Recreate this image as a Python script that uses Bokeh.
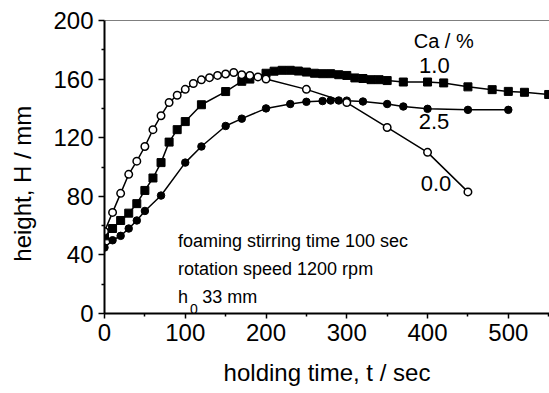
from bokeh.plotting import figure
from bokeh.models import Range1d, FixedTicker, Label, Span
from bokeh.embed import file_html
from bokeh.resources import INLINE

# ---- data ----
t_ca00 = [0, 10, 20, 30, 40, 50, 60, 70, 80, 90, 100, 110, 120, 130, 140, 150, 160,
          170, 180, 190, 200, 250, 300, 350, 400, 450]
h_ca00 = [56, 69, 82, 95, 104, 114, 125.5, 135, 144, 149, 153, 157, 159.5, 161, 162.5,
          163.5, 164.5, 163, 162.5, 161.5, 160, 153, 144, 127, 110, 83]

t_ca10 = [0, 10, 20, 30, 40, 50, 60, 70, 80, 90, 100, 120, 150, 170, 180, 200, 210, 220,
          230, 240, 250, 260, 270, 280, 290, 300, 310, 320, 330, 340, 350, 370, 400, 420,
          450, 480, 500, 520, 550]
h_ca10 = [53, 58, 63.5, 68.5, 75, 84, 92.5, 103, 117, 125.5, 131, 142.5, 151.5, 158.5, 160,
          164, 165.4, 166, 166, 165.5, 164.8, 164, 163.7, 163.7, 163, 162.5, 160.8, 160.4,
          159.6, 159.6, 159, 158, 158, 157.4, 154.7, 152.8, 151.6, 151, 149.5]

t_ca25 = [0, 10, 20, 30, 40, 50, 70, 100, 120, 150, 170, 200, 230, 250, 270, 280, 290, 300,
          320, 350, 370, 400, 450, 500]
h_ca25 = [45, 50, 53, 58, 63.5, 70, 80.5, 103, 114, 128, 133, 140, 143, 144.5, 145, 145.4,
          145.4, 145.3, 144.7, 143, 141.3, 139.7, 139, 139]

x_major = [0, 100, 200, 300, 400, 500]
x_minor = [50, 150, 250, 350, 450, 550]
y_major = [0, 40, 80, 120, 160, 200]
y_minor = [20, 60, 100, 140, 180]

series_labels = ["1.0", "2.5", "0.0"]
legend_title = "Ca / %"
notes = ["foaming stirring time 100 sec", "rotation speed 1200 rpm"]
note_h = "h"
note_h_sub = "0"
note_h_rest = "33 mm"
x_title = "holding time, t / sec"
y_title = "height, H / mm"

FONT = "Liberation Sans"

p = figure(width=549, height=393, output_backend="svg", toolbar_location=None,
           x_range=Range1d(0, 551), y_range=Range1d(0, 200),
           min_border_left=104, min_border_right=0, min_border_top=20,
           min_border_bottom=80)
p.outline_line_color = None
p.grid.visible = False
p.background_fill_color = "white"
p.border_fill_color = "white"

for ax, maj, mnr in ((p.xaxis[0], x_major, x_minor), (p.yaxis[0], y_major, y_minor)):
    ax.ticker = FixedTicker(ticks=maj, minor_ticks=mnr)
    ax.axis_line_width = 2
    ax.axis_line_color = "black"
    ax.major_tick_line_width = 1.5
    ax.minor_tick_line_width = 1.5
    ax.major_tick_line_color = "black"
    ax.minor_tick_line_color = "black"
    ax.major_tick_in = 0
    ax.minor_tick_in = 0
    ax.major_label_text_font = FONT
    ax.major_label_text_font_size = "24px"
    ax.major_label_text_color = "black"
    ax.axis_label_text_font = FONT
    ax.axis_label_text_font_size = "24px"
    ax.axis_label_text_font_style = "normal"
    ax.axis_label_text_color = "black"

p.xaxis.major_tick_out = 5
p.xaxis.minor_tick_out = 3
p.xaxis.major_label_standoff = 5
p.yaxis.major_tick_out = 6
p.yaxis.minor_tick_out = 3
p.yaxis.major_label_standoff = 5

p.xaxis.axis_label = x_title
p.xaxis.axis_label_standoff = 15
p.yaxis.axis_label = y_title + "\u00a0" * 5
p.yaxis.axis_label_standoff = 14

# top border line
p.add_layout(Span(location=200, dimension="width", line_color="black", line_width=1))

# curves
p.line(t_ca10, h_ca10, line_color="black", line_width=1.5)
p.scatter(t_ca10, h_ca10, marker="square", size=8, fill_color="black", line_color="black")

p.line(t_ca25, h_ca25, line_color="black", line_width=1.5)
p.scatter(t_ca25, h_ca25, marker="circle", size=7.5, fill_color="black", line_color="black")

p.line(t_ca00, h_ca00, line_color="black", line_width=1.5)
p.scatter(t_ca00, h_ca00, marker="circle", size=7.5, fill_color="white", line_color="black",
          line_width=1.5)

def lab(x, y, text, size, align="left", baseline="alphabetic"):
    p.add_layout(Label(x=x, y=y, text=text, text_font=FONT, text_font_size=size,
                       text_align=align, text_baseline=baseline, text_color="black"))

lab(420, 186, legend_title, "20px", "center", "middle")
lab(408.5, 169, series_labels[0], "22px", "center", "middle")
lab(408, 131, series_labels[1], "22px", "center", "middle")
lab(410.5, 88.7, series_labels[2], "22px", "center", "middle")

lab(91, 49.8, notes[0], "18px")
lab(91, 30.7, notes[1], "18px")
lab(91, 11.0, note_h, "18px")
lab(106, 3.4, note_h_sub, "14px")
lab(121, 11.0, note_h_rest, "18px")

open("out.html", "w").write(file_html(p, INLINE))
